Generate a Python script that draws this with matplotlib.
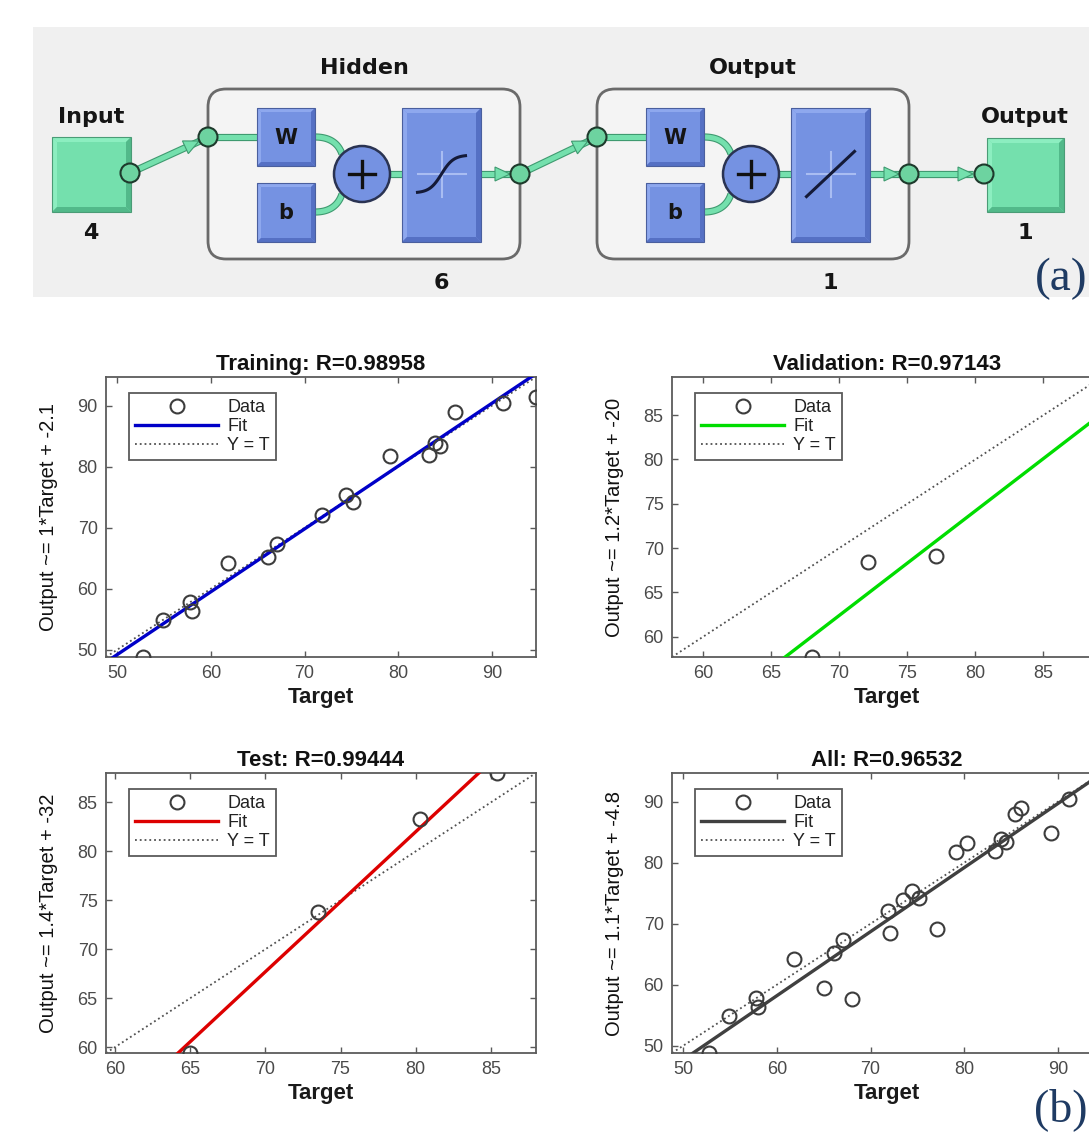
import matplotlib
matplotlib.use("Agg")
import matplotlib.pyplot as plt
from matplotlib.patches import Rectangle, Polygon, Circle, FancyBboxPatch
from matplotlib import patheffects as pe
from matplotlib import font_manager
import numpy as np

# ---- data ----
layer_names = ["Hidden", "Output"]
layer_sizes = [6, 1]
n_inputs = 4
n_outputs = 1

train_t = [52.8, 54.9, 57.8, 58.0, 61.8, 66.1, 67.0, 71.9, 74.4, 75.2, 79.1, 83.3, 83.9, 84.4, 86.1, 91.2, 94.7]
train_y = [48.8, 54.9, 57.8, 56.4, 64.2, 65.2, 67.4, 72.1, 75.4, 74.2, 81.7, 81.9, 83.8, 83.4, 88.9, 90.4, 91.4]
val_t = [68.0, 72.1, 77.1, 89.3]
val_y = [57.7, 68.4, 69.1, 84.9]
test_t = [65.0, 73.5, 80.3, 85.4]
test_y = [59.4, 73.8, 83.3, 88.0]

fit_params = {"Training": (1.03, -2.3), "Validation": (1.18, -20.2),
              "Test": (1.43, -32.4), "All": (1.05, -4.8)}
r_values = {"Training": "0.98958", "Validation": "0.97143", "Test": "0.99444", "All": "0.96532"}
fit_labels = {"Training": "1*Target + -2.1", "Validation": "1.2*Target + -20",
              "Test": "1.4*Target + -32", "All": "1.1*Target + -4.8"}
tick_steps = {"Training": 10, "Validation": 5, "Test": 5, "All": 10}
fit_colors = {"Training": "#0000c8", "Validation": "#00dd00", "Test": "#dd0000", "All": "#404040"}

W, H = 1089, 1133
fig = plt.figure(figsize=(W / 100, H / 100), dpi=100)

# ---- top panel: network diagram, drawn in pixel coordinates ----
ax0 = fig.add_axes([0, 0, 1, 1])
ax0.set_xlim(0, W)
ax0.set_ylim(H, 0)
ax0.axis("off")

GREEN = "#74e0ad"
GREEN_DK = "#3f9a70"
BLUE = "#7592e2"


def bevel_box(x0, y0, x1, y1, face, light, dark, edge, b=5):
    ax0.add_patch(Rectangle((x0, y0), x1 - x0, y1 - y0, fc=face, ec="none", zorder=3))
    ax0.add_patch(Polygon([(x0, y0), (x1, y0), (x1 - b, y0 + b), (x0 + b, y0 + b)], fc=light, ec="none", zorder=3))
    ax0.add_patch(Polygon([(x0, y0), (x0 + b, y0 + b), (x0 + b, y1 - b), (x0, y1)], fc=light, ec="none", zorder=3))
    ax0.add_patch(Polygon([(x0, y1), (x0 + b, y1 - b), (x1 - b, y1 - b), (x1, y1)], fc=dark, ec="none", zorder=3))
    ax0.add_patch(Polygon([(x1, y0), (x1, y1), (x1 - b, y1 - b), (x1 - b, y0 + b)], fc=dark, ec="none", zorder=3))
    ax0.add_patch(Rectangle((x0, y0), x1 - x0, y1 - y0, fc="none", ec=edge, lw=0.8, zorder=3))


def connector(xs, ys):
    ax0.plot(xs, ys, color=GREEN, lw=3.6, solid_capstyle="butt", zorder=2,
             path_effects=[pe.Stroke(linewidth=5.2, foreground=GREEN_DK), pe.Normal()])


def arrowhead(tip, d, length=15, half=7):
    d = np.array(d, float)
    d = d / np.hypot(*d)
    n = np.array([-d[1], d[0]])
    tip = np.array(tip, float)
    base = tip - d * length
    ax0.add_patch(Polygon([tip, base + n * half, base - n * half], fc=GREEN, ec=GREEN_DK, lw=0.8, zorder=4))


def node(x, y, r=9.5):
    ax0.add_patch(Circle((x, y), r, fc="#6dd3a0", ec="#1e3a2c", lw=1.5, zorder=5))


def bezier(p0, p1, p2):
    t = np.linspace(0, 1, 40)[:, None]
    p0, p1, p2 = map(np.array, (p0, p1, p2))
    pts = (1 - t) ** 2 * p0 + 2 * (1 - t) * t * p1 + t ** 2 * p2
    connector(pts[:, 0], pts[:, 1])


ax0.add_patch(Rectangle((33, 27), W - 33, 270, fc="#f0f0f0", ec="none", zorder=0))

txt = dict(fontsize=16, fontweight="bold", family="DejaVu Sans", color="#151515",
           ha="center", va="center", zorder=6)

# input block
bevel_box(52, 137, 131, 212, GREEN, "#8ceec0", "#52b98a", "#4a9c76")
ax0.text(91, 117, "Input", **txt)
ax0.text(91, 233, str(n_inputs), **txt)
node(130, 173)
connector([130, 200], [173, 141])
arrowhead((199, 141), (78, -36))

# layers
for i, (name, size) in enumerate(zip(layer_names, layer_sizes)):
    x0 = 208 + i * 389
    ax0.add_patch(FancyBboxPatch((x0, 89), 312, 170, boxstyle="round,pad=0,rounding_size=18",
                                 fc="#f4f4f4", ec="#6a6a6a", lw=2, zorder=1))
    ax0.text(x0 + 156, 68, name, **txt)
    ax0.text(x0 + 233, 283, str(size), **txt)
    node(x0, 137)
    connector([x0, x0 + 49], [137, 137])
    bevel_box(x0 + 49, 108, x0 + 107, 166, BLUE, "#8ea8ee", "#5570c4", "#4a5f9e", b=4)
    bevel_box(x0 + 49, 183, x0 + 107, 242, BLUE, "#8ea8ee", "#5570c4", "#4a5f9e", b=4)
    ax0.text(x0 + 78, 138, "W", **dict(txt, fontsize=15))
    ax0.text(x0 + 78, 213, "b", **dict(txt, fontsize=15))
    sx = x0 + 154
    bezier((x0 + 107, 137), (x0 + 128, 137), (sx - 20, 154))
    bezier((x0 + 107, 212), (x0 + 128, 212), (sx - 20, 194))
    connector([sx, x0 + 194], [174, 174])
    ax0.add_patch(Circle((sx, 174), 28, fc=BLUE, ec="#2a3352", lw=1.8, zorder=5))
    ax0.plot([sx - 13, sx + 13], [174, 174], color="#111", lw=2.4, zorder=6)
    ax0.plot([sx, sx], [161, 187], color="#111", lw=2.4, zorder=6)
    tx0, tx1 = x0 + 194, x0 + 273
    bevel_box(tx0, 108, tx1, 242, BLUE, "#8ea8ee", "#5570c4", "#4a5f9e", b=5)
    cx = (tx0 + tx1) / 2
    ax0.plot([cx, cx], [152, 197], color="#a9bdf2", lw=1.5, zorder=6)
    ax0.plot([cx - 24, cx + 24], [174, 174], color="#a9bdf2", lw=1.5, zorder=6)
    xs = np.linspace(cx - 24, cx + 24, 60)
    if i == 0:
        ys = 174 - 19 * np.tanh((xs - cx) / 12)
    else:
        ys = 174 - 0.94 * (xs - cx)
    ax0.plot(xs, ys, color="#141a38", lw=2.2, zorder=7)
    connector([tx1, x0 + 302], [174, 174])
    arrowhead((x0 + 302, 174), (1, 0))
    node(x0 + 312, 174)

# links between blocks
connector([520, 589], [174, 141])
arrowhead((588, 141), (77, -37))
connector([907, 973], [174, 174])
arrowhead((973, 174), (1, 0))

bevel_box(987, 138, 1064, 212, GREEN, "#8ceec0", "#52b98a", "#4a9c76")
node(984, 174)
ax0.text(1025, 117, "Output", **txt)
ax0.text(1025, 233, str(n_outputs), **txt)

ax0.text(1035, 290, "(a)", fontsize=34, family="Liberation Serif", color="#1f3b63",
         ha="left", va="baseline")
ax0.text(1034, 1121, "(b)", fontsize=33, family="Liberation Serif", color="#1f3b63",
         ha="left", va="baseline")

# ---- bottom panel: regression plots ----
try:
    font_manager.findfont("Liberation Sans Narrow", fallback_to_default=False)
    ylab_font, ylab_size = ["Liberation Sans Narrow", "Liberation Sans"], 16.5
except ValueError:
    ylab_font, ylab_size = ["Liberation Sans"], 14.5

all_t = train_t + val_t + test_t
all_y = train_y + val_y + test_y
panels = [("Training", train_t, train_y, (106, 377)),
          ("Validation", val_t, val_y, (672, 377)),
          ("Test", test_t, test_y, (106, 773)),
          ("All", all_t, all_y, (672, 773))]

for name, t, y, (left, top) in panels:
    ax = fig.add_axes([left / W, 1 - (top + 280) / H, 430 / W, 280 / H])
    lo = min(min(t), min(y))
    hi = max(max(t), max(y))
    slope, icpt = fit_params[name]
    lim = np.array([lo, hi])
    ax.plot(t, y, "o", mfc="none", mec="#3c3c3c", ms=10, mew=1.5, label="Data", zorder=4)
    ax.plot(lim, slope * lim + icpt, color=fit_colors[name], lw=2.4, label="Fit", zorder=3)
    ax.plot(lim, lim, ":", color="#505050", lw=1.3, label="Y = T", zorder=2)
    ax.set_xlim(lo, hi)
    ax.set_ylim(lo, hi)
    step = tick_steps[name]
    ticks = np.arange(np.ceil(lo / step) * step, hi + 0.01, step)
    ax.set_xticks(ticks)
    ax.set_yticks(ticks)
    ax.tick_params(direction="in", length=4, width=1, colors="#5a5a5a", labelcolor="#4a4a4a",
                   labelsize=13, top=True, right=True, pad=6)
    for lab in ax.get_xticklabels() + ax.get_yticklabels():
        lab.set_family("Liberation Sans")
    for sp in ax.spines.values():
        sp.set_color("#5c5c5c")
        sp.set_linewidth(1.3)
    ax.set_title("%s: R=%s" % (name, r_values[name]), fontsize=16, fontweight="bold",
                 family="Liberation Sans", color="#111", pad=5)
    ax.set_xlabel("Target", fontsize=16, fontweight="bold", family="Liberation Sans",
                  color="#1a1a1a", labelpad=3)
    ax.set_ylabel("Output ~= " + fit_labels[name], fontsize=ylab_size, family=ylab_font,
                  color="#111", labelpad=14)
    leg = ax.legend(loc="upper left", bbox_to_anchor=(23 / 430, 1 - 16 / 280), borderaxespad=0,
                    handlelength=4.6, handletextpad=0.5, labelspacing=0.1,
                    borderpad=0.35, fancybox=False, framealpha=1, edgecolor="#5a5a5a",
                    prop={"family": "Liberation Sans", "size": 13})
    leg.get_frame().set_linewidth(1.3)
    for txt_item in leg.get_texts():
        txt_item.set_color("#222")

fig.savefig("out.png", dpi=100)
